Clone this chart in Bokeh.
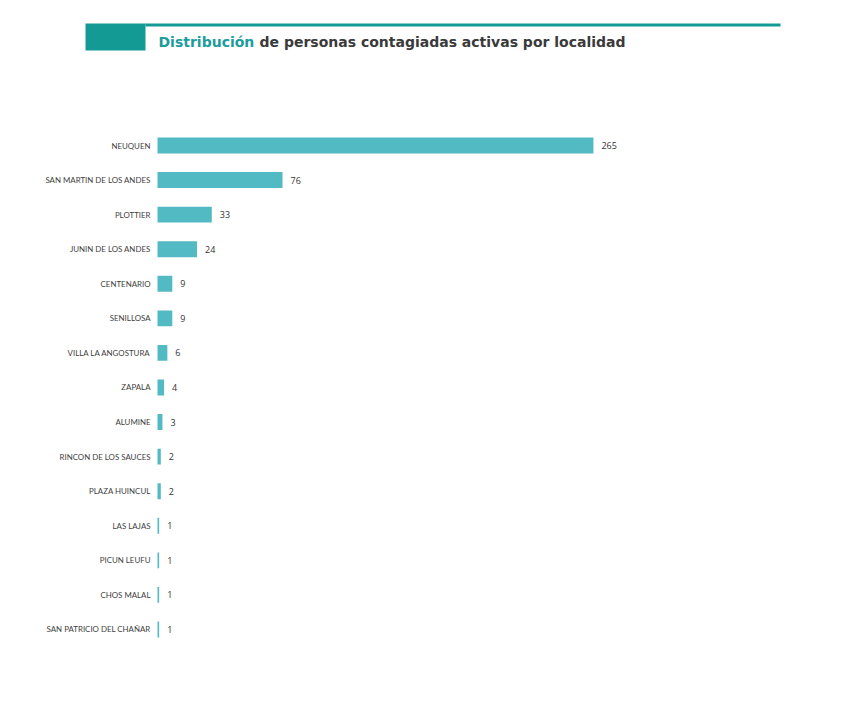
from bokeh.plotting import figure
from bokeh.models import Range1d, ColumnDataSource
from bokeh.core.properties import value
from bokeh.embed import file_html
from bokeh.resources import INLINE

localidades = ["NEUQUEN", "SAN MARTIN DE LOS ANDES", "PLOTTIER", "JUNIN DE LOS ANDES",
               "CENTENARIO", "SENILLOSA", "VILLA LA ANGOSTURA", "ZAPALA", "ALUMINE",
               "RINCON DE LOS SAUCES", "PLAZA HUINCUL", "LAS LAJAS", "PICUN LEUFU",
               "CHOS MALAL", "SAN PATRICIO DEL CHAÑAR"]
casos = [265, 76, 33, 24, 9, 9, 6, 4, 3, 2, 2, 1, 1, 1, 1]
etiquetas = [str(v) for v in casos]

title_blue = "Distribución"
title_rest = "de personas contagiadas activas por localidad"

TEAL = "#149a95"
BAR = "#52bac2"
W, H = 831, 696

# layout geometry (canvas pixels)
ZERO_X = 157.0      # where value 0 sits
PX_PER_UNIT = 1.645 # horizontal scale
FIRST_ROW = 145.0   # centre of first category
ROW = 34.57         # category spacing

n = len(localidades)
rank = list(range(n))

x_range = Range1d(-ZERO_X / PX_PER_UNIT, (W - ZERO_X) / PX_PER_UNIT)
y_range = Range1d((H - FIRST_ROW) / ROW, -FIRST_ROW / ROW)  # inverted: first category on top

p = figure(width=W, height=H, x_range=x_range, y_range=y_range,
           output_backend="svg", toolbar_location=None,
           x_axis_location=None, y_axis_location=None, min_border=0,
           outline_line_color=None, background_fill_color="white")
p.grid.visible = False
p.extra_x_ranges = {"px": Range1d(0, W)}
p.extra_y_ranges = {"px": Range1d(H, 0)}

src = ColumnDataSource(dict(loc=localidades, y=rank, v=casos, lab=etiquetas,
                            zero=[0] * n))
# bars
p.hbar(y="y", right="v", left=0, height=0.46, source=src, fill_color=BAR, line_color=None)
# value labels
p.text(x="v", y="y", text="lab", source=src, x_offset=8, text_baseline="middle",
       text_align="left", text_font=value("Open Sans"), text_font_size="9px",
       text_color="#333333")
# category labels
p.text(x="zero", y="y", text="loc", source=src, x_offset=-7, text_baseline="middle",
       text_align="right", text_font=value("Lato"), text_font_size="7.9px",
       text_color="#404040")

# title decorations (pixel ranges)
p.quad(left=[85], right=[145], top=[23], bottom=[50], fill_color=TEAL, line_color=None,
       x_range_name="px", y_range_name="px")
p.quad(left=[145], right=[780], top=[23], bottom=[26], fill_color=TEAL, line_color=None,
       x_range_name="px", y_range_name="px")
p.text(x=[158], y=[41.5], text=[title_blue], text_color="#1c9c9c",
       text_font=value("DejaVu Sans"), text_font_style="bold", text_font_size="14px",
       text_baseline="alphabetic", text_align="left", x_range_name="px", y_range_name="px")
p.text(x=[259], y=[41.5], text=[title_rest], text_color="#3a3a3a",
       text_font=value("DejaVu Sans"), text_font_style="bold", text_font_size="14px",
       text_baseline="alphabetic", text_align="left", x_range_name="px", y_range_name="px")

open("out.html", "w").write(file_html(p, INLINE))
